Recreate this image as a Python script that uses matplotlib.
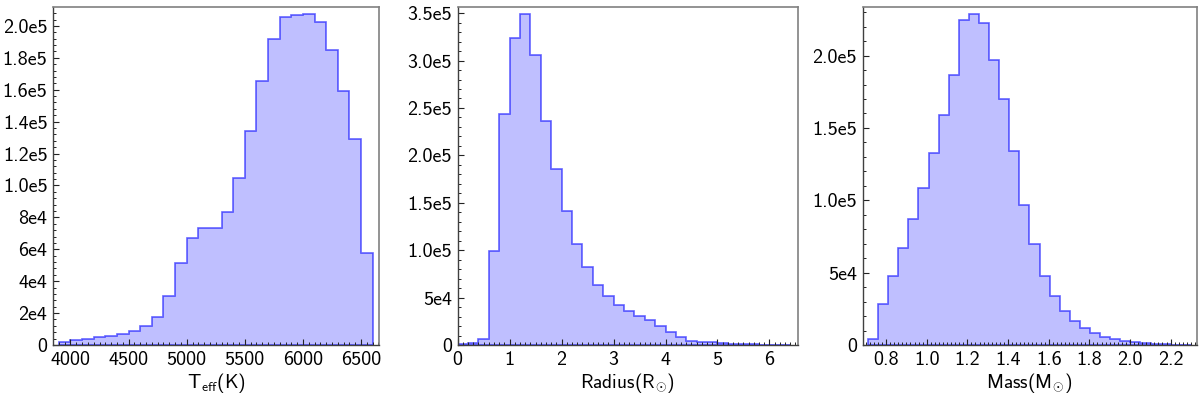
import numpy as np
import matplotlib
matplotlib.use("Agg")
import matplotlib.pyplot as plt
from matplotlib.ticker import MultipleLocator, FixedLocator, FixedFormatter

plt.rcParams['font.family'] = ['cmss10', 'DejaVu Sans']
plt.rcParams['mathtext.fontset'] = 'custom'
plt.rcParams['mathtext.rm'] = 'cmss10'
plt.rcParams['mathtext.it'] = 'cmss10'
plt.rcParams['mathtext.sf'] = 'cmss10'
plt.rcParams['axes.unicode_minus'] = False
plt.rcParams['axes.formatter.use_mathtext'] = False

# ---- Data (bin edges and counts) ----
teff_edges = np.arange(3900, 6601, 100)
teff_counts = [1700, 3100, 3800, 4800, 5600, 7100, 8800, 11900, 17600, 30500,
               51600, 67300, 73100, 73300, 83200, 104500, 134200, 165700, 191800,
               205800, 206900, 207700, 202500, 185200, 159400, 129100, 57500]

radius_edges = np.round(np.arange(0.0, 6.41, 0.2), 2)
radius_counts = [700, 2500, 6300, 99000, 244000, 323500, 349500, 305900, 236400,
                 185500, 141600, 106800, 81800, 63200, 51300, 42100, 35800, 30900,
                 26300, 20400, 14000, 8800, 4600, 3500, 2800, 2100, 1400, 1000,
                 700, 400, 300, 200]

mass_edges = np.linspace(0.711, 2.30, 33)
mass_counts = [4100, 28100, 47700, 67300, 87300, 108300, 132700, 158700, 186600,
               224600, 229000, 222500, 196700, 169800, 134300, 96800, 69800, 47700,
               33600, 23700, 16800, 12000, 8100, 5500, 3900, 3000, 1800, 1400,
               700, 500, 300, 200]

xlabels = [r'T$_{\rm eff}$(K)', r'Radius(R$_{\odot}$)', r'Mass(M$_{\odot}$)']

teff_yticks = [0, 2e4, 4e4, 6e4, 8e4, 1.0e5, 1.2e5, 1.4e5, 1.6e5, 1.8e5, 2.0e5]
teff_ylabels = ['0', '2e4', '4e4', '6e4', '8e4', '1.0e5', '1.2e5', '1.4e5', '1.6e5', '1.8e5', '2.0e5']
radius_yticks = [0, 5e4, 1.0e5, 1.5e5, 2.0e5, 2.5e5, 3.0e5, 3.5e5]
radius_ylabels = ['0', '5e4', '1.0e5', '1.5e5', '2.0e5', '2.5e5', '3.0e5', '3.5e5']
mass_yticks = [0, 5e4, 1.0e5, 1.5e5, 2.0e5]
mass_ylabels = ['0', '5e4', '1.0e5', '1.5e5', '2.0e5']

teff_xticks = [4000, 4500, 5000, 5500, 6000, 6500]
radius_xticks = [0, 1, 2, 3, 4, 5, 6]
mass_xticks = [0.8, 1.0, 1.2, 1.4, 1.6, 1.8, 2.0, 2.2]
mass_xlabels = ['0.8', '1.0', '1.2', '1.4', '1.6', '1.8', '2.0', '2.2']

# ---- Figure ----
fig = plt.figure(figsize=(12, 3.96), dpi=100)
bottom = 0.1288
height = 0.8535
axes = [fig.add_axes([0.0442, bottom, 0.2717, height]),
        fig.add_axes([0.3814, bottom, 0.2836, height]),
        fig.add_axes([0.7189, bottom, 0.2783, height])]

panels = [
    (teff_edges, teff_counts, (3850, 6655), teff_xticks, None, 50,
     teff_yticks, teff_ylabels, 4000),
    (radius_edges, radius_counts, (0, 6.55), radius_xticks, None, 0.1,
     radius_yticks, radius_ylabels, 1e4),
    (mass_edges, mass_counts, (0.685, 2.328), mass_xticks, mass_xlabels, 0.02,
     mass_yticks, mass_ylabels, 1e4),
]

for ax, (edges, counts, xlim, xt, xtl, xminor, yt, ytl, yminor), xl in zip(axes, panels, xlabels):
    edges = np.asarray(edges, dtype=float)
    centers = 0.5 * (edges[:-1] + edges[1:])
    ax.hist(centers, bins=edges, weights=counts, histtype='stepfilled',
            facecolor=(0, 0, 1, 0.25), edgecolor=(0, 0, 1, 0.6), linewidth=1.2)
    ax.set_xlim(*xlim)
    ax.set_ylim(0, max(counts) * 1.02)
    ax.xaxis.set_major_locator(FixedLocator(xt))
    if xtl is not None:
        ax.xaxis.set_major_formatter(FixedFormatter(xtl))
    ax.xaxis.set_minor_locator(MultipleLocator(xminor))
    ax.yaxis.set_major_locator(FixedLocator(yt))
    ax.yaxis.set_major_formatter(FixedFormatter(ytl))
    ax.yaxis.set_minor_locator(MultipleLocator(yminor))
    ax.tick_params(which='both', direction='in', top=False, right=False,
                   labelsize=14.5, colors='#222222', pad=4)
    ax.tick_params(which='major', length=4, width=0.8)
    ax.tick_params(which='minor', length=2, width=0.7)
    ax.tick_params(axis='both', labelcolor='black')
    for s in ['top', 'right']:
        ax.spines[s].set_color('#808080')
        ax.spines[s].set_linewidth(1.2)
    for s in ['left', 'bottom']:
        ax.spines[s].set_color('#404040')
        ax.spines[s].set_linewidth(1.0)
    ax.set_xlabel(xl, fontsize=14, labelpad=2)

fig.savefig('out.png', dpi=100)
